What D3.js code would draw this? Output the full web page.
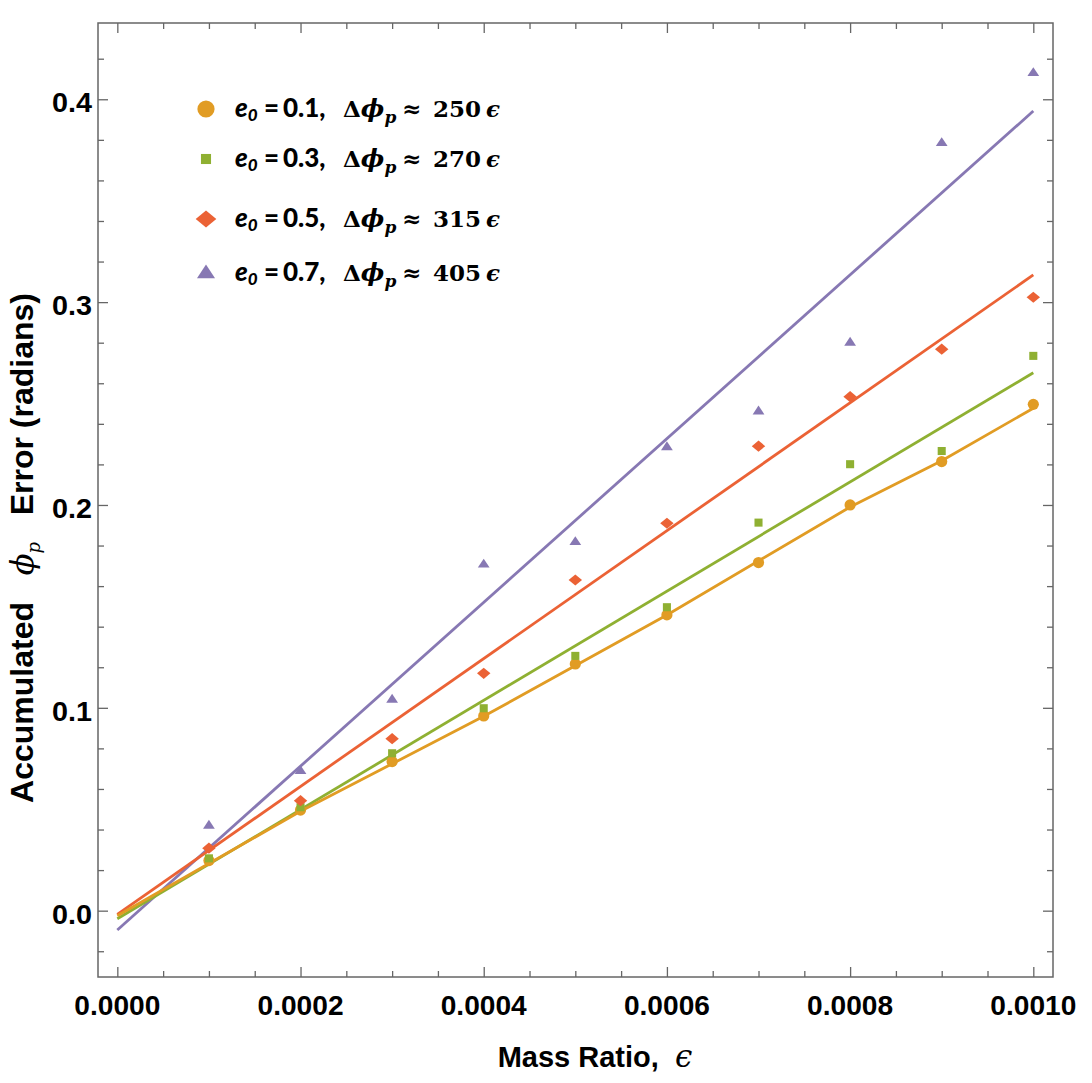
<!DOCTYPE html>
<html>
<head>
<meta charset="utf-8">
<script src="https://cdn.jsdelivr.net/npm/d3@7"></script>
<style>
  body { margin: 0; background: #fff; }
  svg { display: block; }
  text { white-space: pre; }
</style>
</head>
<body>
<svg id="chart" width="1092" height="1083"></svg>
<script>
// mass ratio values (x) and accumulated phase error per eccentricity
const massRatio = [0.0001, 0.0002, 0.0003, 0.0004, 0.0005, 0.0006, 0.0007, 0.0008, 0.0009, 0.0010];
const errE01 = [0.0247, 0.0496, 0.0735, 0.0960, 0.1216, 0.1458, 0.1716, 0.2000, 0.2214, 0.2496];
const errE03 = [0.0258, 0.0510, 0.0776, 0.0998, 0.1256, 0.1496, 0.1913, 0.2201, 0.2266, 0.2735];
const errE05 = [0.0308, 0.0542, 0.0848, 0.1170, 0.1630, 0.1910, 0.2290, 0.2534, 0.2768, 0.3024];
const errE07 = [0.0421, 0.0690, 0.1042, 0.1708, 0.1819, 0.2287, 0.2463, 0.2802, 0.3786, 0.4131];

// fitted lines
const lineX01 = [0, 0.0002, 0.0004, 0.0006, 0.0008, 0.0009, 0.0010];
const lineE01 = [-0.0025, 0.0490, 0.0958, 0.1458, 0.1990, 0.2218, 0.2477];
const fitX = [0, 0.0010];
const fitE03 = [-0.0040, 0.2652];
const fitE05 = [-0.0018, 0.3134];
const fitE07 = [-0.0095, 0.3942];

const eccLabels = ['0.1', '0.3', '0.5', '0.7'];
const slopeLabels = ['250', '270', '315', '405'];
const colors = ['#E19C24', '#8FB032', '#EB6235', '#8778B3'];
const shapes = ['circle', 'square', 'diamond', 'triangle'];

const xMajorTicks = [0, 0.0002, 0.0004, 0.0006, 0.0008, 0.0010];
const xTickLabels = ['0.0000', '0.0002', '0.0004', '0.0006', '0.0008', '0.0010'];
const yMajorTicks = [0, 0.1, 0.2, 0.3, 0.4];
const yTickLabels = ['0.0', '0.1', '0.2', '0.3', '0.4'];

let svg = d3.select('#chart');
let frameL = 98, frameR = 1053, frameT = 23, frameB = 977;

let x = d3.scaleLinear().domain([-0.0000211, 0.0010215]).range([frameL, frameR]);
let y = d3.scaleLinear().domain([-0.0327, 0.4376]).range([frameB, frameT]);

let frameColor = '#666';
let sans = "'Liberation Sans', Arial, sans-serif";
let serif = "'DejaVu Serif', serif";

// minor tick values
let xMinor = d3.range(0, 0.00101, 0.00005).filter(v => !xMajorTicks.some(m => Math.abs(m - v) < 1e-9));
let yMinor = d3.range(-0.02, 0.4301, 0.02).filter(v => !yMajorTicks.some(m => Math.abs(m - v) < 1e-9));

// Frame
svg.append('rect')
    .attr('x', frameL).attr('y', frameT)
    .attr('width', frameR - frameL).attr('height', frameB - frameT)
    .attr('fill', 'none').attr('stroke', frameColor).attr('stroke-width', 1.5);

// Ticks on all four sides
function drawTicks(axisFn, scale, values, size, transform) {
    let g = svg.append('g')
        .attr('transform', transform)
        .call(axisFn(scale).tickValues(values).tickSize(size).tickFormat(''));
    g.select('.domain').remove();
    g.selectAll('line').attr('stroke', frameColor).attr('stroke-width', 1.3);
}
// D3 axis ticks point outward, so flip the direction to point inward
drawTicks(d3.axisTop, x, xMajorTicks, 10, `translate(0,${frameB})`);
drawTicks(d3.axisTop, x, xMinor, 6, `translate(0,${frameB})`);
drawTicks(d3.axisBottom, x, xMajorTicks, 10, `translate(0,${frameT})`);
drawTicks(d3.axisBottom, x, xMinor, 6, `translate(0,${frameT})`);
drawTicks(d3.axisRight, y, yMajorTicks, 10, `translate(${frameL},0)`);
drawTicks(d3.axisRight, y, yMinor, 6, `translate(${frameL},0)`);
drawTicks(d3.axisLeft, y, yMajorTicks, 10, `translate(${frameR},0)`);
drawTicks(d3.axisLeft, y, yMinor, 6, `translate(${frameR},0)`);

// Tick labels
svg.append('g').selectAll('text')
    .data(xMajorTicks).enter()
    .append('text')
    .attr('x', d => x(d))
    .attr('y', 1015)
    .attr('text-anchor', 'middle')
    .attr('font-family', sans).attr('font-weight', 'bold').attr('font-size', 28)
    .attr('textLength', 86).attr('lengthAdjust', 'spacingAndGlyphs')
    .text((d, i) => xTickLabels[i]);

svg.append('g').selectAll('text')
    .data(yMajorTicks).enter()
    .append('text')
    .attr('x', 92)
    .attr('y', d => y(d) + 13)
    .attr('text-anchor', 'end')
    .attr('font-family', sans).attr('font-weight', 'bold').attr('font-size', 27)
    .attr('textLength', 40).attr('lengthAdjust', 'spacingAndGlyphs')
    .text((d, i) => yTickLabels[i]);

// Axis titles
let xTitle = svg.append('text')
    .attr('x', 595).attr('y', 1067)
    .attr('text-anchor', 'middle')
    .attr('font-family', sans).attr('font-weight', 'bold').attr('font-size', 29);
xTitle.append('tspan').text('Mass Ratio,  ');
xTitle.append('tspan').attr('font-family', serif).attr('font-style', 'italic').attr('font-weight', 'normal').attr('font-size', 31).text('\u03F5');

let yTitle = svg.append('text')
    .attr('transform', 'translate(33,548) rotate(-90)')
    .attr('text-anchor', 'middle')
    .attr('font-family', sans).attr('font-weight', 'bold').attr('font-size', 32);
yTitle.append('tspan').text('Accumulated   ');
yTitle.append('tspan').attr('font-family', serif).attr('font-style', 'italic').attr('font-weight', 'normal').text('\u03D5');
yTitle.append('tspan').attr('font-family', serif).attr('font-style', 'italic').attr('font-weight', 'normal').attr('font-size', 18).attr('dy', 7).text('p');
yTitle.append('tspan').attr('dy', -7).text('   Error (radians)');

// Lines
let line = d3.line().x(d => x(d[0])).y(d => y(d[1]));
let lineSets = [
    d3.zip(lineX01, lineE01),
    d3.zip(fitX, fitE03),
    d3.zip(fitX, fitE05),
    d3.zip(fitX, fitE07)
];
svg.append('g').selectAll('path')
    .data([3, 2, 1, 0]).enter()
    .append('path')
    .attr('d', i => line(lineSets[i]))
    .attr('fill', 'none')
    .attr('stroke', i => colors[i])
    .attr('stroke-width', 2.8);

// Marker shapes
function markerPath(shape, s) {
    if (shape === 'circle') {
        return `M${-s},0A${s},${s} 0 1,0 ${s},0A${s},${s} 0 1,0 ${-s},0Z`;
    } else if (shape === 'square') {
        let h = s * 0.72;
        return `M${-h},${-h}H${h}V${h}H${-h}Z`;
    } else if (shape === 'diamond') {
        let w = s * 1.2, h = s * 1.0;
        return `M0,${-h}L${w},0L0,${h}L${-w},0Z`;
    } else {
        let w = s * 1.05, h = s * 1.6;
        return `M0,${-h * 0.62}L${w},${h * 0.38}L${-w},${h * 0.38}Z`;
    }
}

let seriesValues = [errE01, errE03, errE05, errE07];
seriesValues.forEach((vals, i) => {
    svg.append('g').selectAll('path')
        .data(d3.zip(massRatio, vals)).enter()
        .append('path')
        .attr('transform', d => `translate(${x(d[0])},${y(d[1])})`)
        .attr('d', markerPath(shapes[i], 5.6))
        .attr('fill', colors[i]);
});

// Legend
let legendRows = [109, 159, 219, 273];
let legend = svg.append('g');
eccLabels.forEach((lab, i) => {
    let cy = legendRows[i];
    legend.append('path')
        .attr('transform', `translate(206,${cy})`)
        .attr('d', markerPath(shapes[i], i === 1 ? 7 : 8.6))
        .attr('fill', colors[i]);

    let base = cy + 8;
    let t = legend.append('text')
        .attr('x', 235).attr('y', base)
        .attr('font-family', "Lato, 'Liberation Sans', sans-serif")
        .attr('font-weight', 900).attr('font-size', 26);
    t.append('tspan').attr('font-style', 'italic').text('e');
    t.append('tspan').attr('font-style', 'italic').attr('font-size', 17).attr('dy', 4).text('0');
    t.append('tspan').attr('x', 264).attr('dy', -4).text('=');
    t.append('tspan').attr('x', 283).text(lab + ',');

    let m = legend.append('text')
        .attr('x', 343).attr('y', base)
        .attr('font-family', serif).attr('font-weight', 'bold').attr('font-size', 23);
    m.append('tspan').text('\u0394');
    m.append('tspan').attr('font-style', 'italic').attr('font-size', 25).text('\u03D5');
    m.append('tspan').attr('font-style', 'italic').attr('font-size', 17).attr('dy', 6).text('p');
    m.append('tspan').attr('x', 402).attr('dy', -6).text('\u2248');
    m.append('tspan').attr('x', 433).text(slopeLabels[i]);
    m.append('tspan').attr('x', 486).attr('font-style', 'italic').text('\u03F5');
});
</script>
</body>
</html>
